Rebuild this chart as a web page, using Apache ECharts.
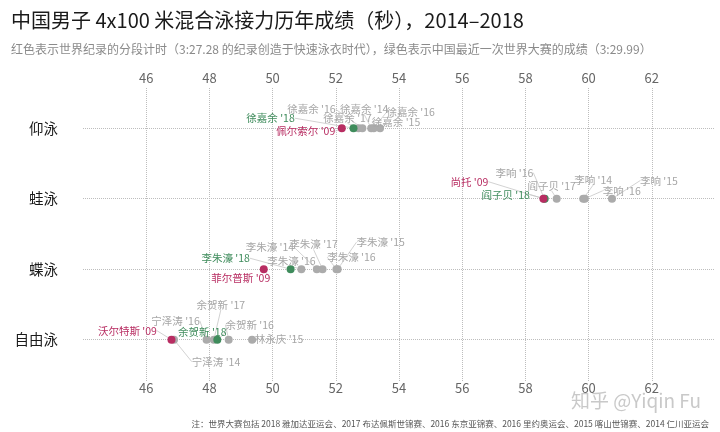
<!DOCTYPE html>
<html>
<head>
<meta charset="utf-8">
<script src="https://cdn.jsdelivr.net/npm/echarts@6/dist/echarts.min.js"></script>
<style>html,body{margin:0;padding:0;background:#fff}#c{width:720px;height:432px}</style>
</head>
<body>
<div id="c"></div>
<script>
// ---- data ----
const strokes = ['仰泳', '蛙泳', '蝶泳', '自由泳'];
const xTicks = [46, 48, 50, 52, 54, 56, 58, 60, 62];

// world record splits (3:27.28, 2009)
const wrSwimmers = ['佩尔索尔', '尚托', '菲尔普斯', '沃尔特斯'];
const wrYears = ["'09", "'09", "'09", "'09"];
const wrSplits = [52.19, 58.57, 49.72, 46.80];

// China 2018 (3:29.99)
const cn18Swimmers = ['徐嘉余', '阎子贝', '李朱濠', '余贺新'];
const cn18Years = ["'18", "'18", "'18", "'18"];
const cn18Splits = [52.56, 58.61, 50.57, 48.25];

// China other major meets 2014-2017
const otherStroke = [0, 0, 0, 0, 0, 1, 1, 1, 1, 1, 2, 2, 2, 2, 2, 3, 3, 3, 3, 3];
const otherSwimmers = ['徐嘉余', '徐嘉余', '徐嘉余', '徐嘉余', '徐嘉余',
  '李响', '阎子贝', '李响', '李响', '李响',
  '李朱濠', '李朱濠', '李朱濠', '李朱濠', '李朱濠',
  '宁泽涛', '宁泽涛', '余贺新', '余贺新', '林永庆'];
const otherYears = ["'17", "'16", "'14", "'16", "'15",
  "'16", "'17", "'14", "'16", "'15",
  "'16", "'14", "'17", "'15", "'16",
  "'14", "'16", "'17", "'16", "'15"];
const otherSplits = [52.72, 52.84, 53.12, 53.20, 53.40,
  58.60, 58.99, 59.83, 59.88, 60.74,
  50.91, 51.40, 51.58, 52.06, 52.02,
  46.88, 47.91, 48.14, 48.61, 49.35];

// ---- label placement (offsets of label centre from its point, px) ----
const wrLabelOffsets = [[-36, 3], [-74, -17], [-23, 9], [-44, -9]];
const cn18LabelOffsets = [[-83, -10], [-39, -4], [-65, -11], [-15, -8]];
const otherLabelOffsets = [[-11, -10], [-51, -19], [-7, -19], [37, -16], [16, -6],
  [-30, -26], [-5, -13], [10, -19], [37, -8], [47, -18],
  [-10, -8], [-47, -22], [-9, -25], [43, -27], [15, -12],
  [42, 22], [-31, -19], [7, -35], [21, -15], [27, -1]];

const FONT = '"Noto Sans CJK SC", "Noto Sans", sans-serif';
const RED = '#b82d62', GREEN = '#3f8c5c', GRAY = '#ababab';

function mk(splits, strokeIdx, swimmers, years) {
  return splits.map((v, i) => ({ value: [v, strokeIdx[i]], name: swimmers[i] + ' ' + years[i] }));
}
function layoutFrom(offsets) {
  return function (p) {
    const o = offsets[p.dataIndex];
    return { dx: o[0], dy: o[1] };
  };
}
function scatter(name, data, color, labelColor, offsets) {
  return {
    name: name, type: 'scatter', data: data, symbolSize: 8, silent: true,
    itemStyle: { color: color, opacity: 1 },
    label: { show: true, position: 'inside', formatter: '{b}', color: labelColor, fontSize: 10.5, fontFamily: FONT },
    labelLine: { show: true, lineStyle: { color: '#c6c6c6', width: 0.8 } },
    labelLayout: layoutFrom(offsets),
    emphasis: { disabled: true }
  };
}

const chart = echarts.init(document.getElementById('c'), null, { renderer: 'canvas' });
const xAxisBase = {
  type: 'value', min: 44, max: 64,
  axisLine: { show: false },
  axisTick: { show: false, customValues: xTicks },
  axisLabel: { customValues: xTicks, color: '#666', fontSize: 13, fontFamily: FONT },
};
chart.setOption({
  animation: false,
  backgroundColor: '#fff',
  title: [
    { text: '中国男子 4x100 米混合泳接力历年成绩（秒），2014–2018', left: 6, top: 5,
      textStyle: { fontSize: 20, fontWeight: 'normal', color: '#1a1a1a', fontFamily: FONT } },
    { text: '红色表示世界纪录的分段计时（3:27.28 的纪录创造于快速泳衣时代），绿色表示中国最近一次世界大赛的成绩（3:29.99）', left: 6, top: 38,
      textStyle: { fontSize: 12, fontWeight: 'normal', color: '#8a8a8a', fontFamily: FONT } },
    { text: '知乎 @Yiqin Fu', right: 14, top: 386,
      textStyle: { fontSize: 19, fontWeight: 'normal', color: '#c9c9c9', fontFamily: FONT } },
    { text: '注：世界大赛包括 2018 雅加达亚运会、2017 布达佩斯世锦赛、2016 东京亚锦赛、2016 里约奥运会、2015 喀山世锦赛、2014 仁川亚运会', right: 6, top: 415,
      textStyle: { fontSize: 8.5, fontWeight: 'normal', color: '#555', fontFamily: FONT } }
  ],
  grid: { left: 83, right: 5, top: 88, bottom: 50 },
  xAxis: [
    Object.assign({}, xAxisBase, { position: 'top',
      axisLabel: Object.assign({}, xAxisBase.axisLabel, { margin: 3 }),
      splitLine: { show: true, lineStyle: { type: 'dotted', color: '#bdbdbd', width: 1 } } }),
    Object.assign({}, xAxisBase, { position: 'bottom',
      axisLabel: Object.assign({}, xAxisBase.axisLabel, { margin: 0 }),
      splitLine: { show: false } })
  ],
  yAxis: {
    type: 'value', min: -0.57, max: 3.6, inverse: true,
    axisLine: { show: false },
    axisTick: { show: false, customValues: [0, 1, 2, 3] },
    axisLabel: { customValues: [0, 1, 2, 3], formatter: v => strokes[Math.round(v)] || '',
      color: '#1a1a1a', fontSize: 14.5, margin: 25, fontFamily: FONT },
    splitLine: { show: true, lineStyle: { type: 'dotted', color: '#bdbdbd', width: 1 } }
  },
  series: [
    scatter('other', mk(otherSplits, otherStroke, otherSwimmers, otherYears), GRAY, '#a6a6a6', otherLabelOffsets),
    scatter('cn18', mk(cn18Splits, [0, 1, 2, 3], cn18Swimmers, cn18Years), GREEN, GREEN, cn18LabelOffsets),
    scatter('wr', mk(wrSplits, [0, 1, 2, 3], wrSwimmers, wrYears), RED, RED, wrLabelOffsets)
  ]
});
</script>
</body>
</html>
